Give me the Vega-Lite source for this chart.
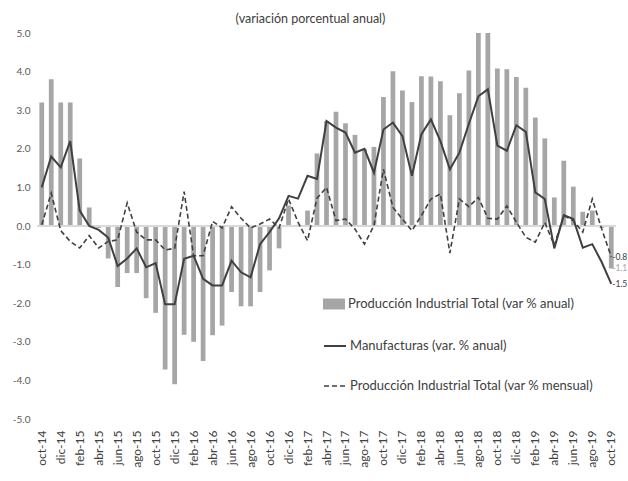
{
  "$schema": "https://vega.github.io/schema/vega-lite/v6.json",
  "autosize": "none",
  "width": 579,
  "height": 386,
  "padding": {"left": 37, "top": 33, "right": 12, "bottom": 62},
  "background": "white",
  "config": {
    "view": {"stroke": null},
    "font": "Lato",
    "axis": {"domain": false, "ticks": false, "grid": false},
    "axisY": {"labelOverlap": false, "labelFontSize": 10, "labelColor": "#595959", "labelPadding": 7},
    "legend": {"padding": 0, "title": null, "labelLimit": 0}
  },
  "title": {
    "text": "(variación porcentual anual)",
    "fontSize": 12.5,
    "font": "Lato",
    "fontWeight": "normal",
    "color": "#404040",
    "anchor": "middle",
    "dx": -16,
    "offset": 3
  },
  "data": {
    "values": [
      {"mes": "oct-14", "pa": 3.2, "m": 1.0, "pm": 0.03},
      {"mes": "nov-14", "pa": 3.8, "m": 1.8, "pm": 0.85},
      {"mes": "dic-14", "pa": 3.2, "m": 1.52, "pm": -0.12},
      {"mes": "ene-15", "pa": 3.2, "m": 2.2, "pm": -0.4},
      {"mes": "feb-15", "pa": 1.75, "m": 0.4, "pm": -0.57},
      {"mes": "mar-15", "pa": 0.48, "m": 0.0, "pm": -0.25},
      {"mes": "abr-15", "pa": -0.05, "m": -0.1, "pm": -0.57},
      {"mes": "may-15", "pa": -0.84, "m": -0.3, "pm": -0.4},
      {"mes": "jun-15", "pa": -1.58, "m": -1.04, "pm": -0.36},
      {"mes": "jul-15", "pa": -1.22, "m": -0.84, "pm": 0.6},
      {"mes": "ago-15", "pa": -1.22, "m": -0.58, "pm": -0.16},
      {"mes": "sep-15", "pa": -1.87, "m": -1.07, "pm": -0.36},
      {"mes": "oct-15", "pa": -2.25, "m": -0.96, "pm": -0.36},
      {"mes": "nov-15", "pa": -3.72, "m": -2.03, "pm": -0.62},
      {"mes": "dic-15", "pa": -4.1, "m": -2.03, "pm": -0.58},
      {"mes": "ene-16", "pa": -2.82, "m": -0.85, "pm": 0.89},
      {"mes": "feb-16", "pa": -3.0, "m": -0.77, "pm": -0.77},
      {"mes": "mar-16", "pa": -3.5, "m": -1.37, "pm": -0.77},
      {"mes": "abr-16", "pa": -2.83, "m": -1.54, "pm": 0.12},
      {"mes": "may-16", "pa": -2.58, "m": -1.54, "pm": -0.05},
      {"mes": "jun-16", "pa": -1.71, "m": -0.9, "pm": 0.5},
      {"mes": "jul-16", "pa": -2.08, "m": -1.2, "pm": 0.2},
      {"mes": "ago-16", "pa": -2.08, "m": -1.33, "pm": -0.05},
      {"mes": "sep-16", "pa": -1.71, "m": -0.47, "pm": 0.05},
      {"mes": "oct-16", "pa": -1.15, "m": -0.16, "pm": 0.18},
      {"mes": "nov-16", "pa": -0.58, "m": 0.2, "pm": -0.05},
      {"mes": "dic-16", "pa": 0.53, "m": 0.78, "pm": 0.7},
      {"mes": "ene-17", "pa": 0.03, "m": 0.71, "pm": 0.1},
      {"mes": "feb-17", "pa": 0.4, "m": 1.3, "pm": -0.38},
      {"mes": "mar-17", "pa": 1.88, "m": 1.22, "pm": 0.72},
      {"mes": "abr-17", "pa": 2.72, "m": 2.72, "pm": 1.0},
      {"mes": "may-17", "pa": 2.96, "m": 2.55, "pm": 0.14},
      {"mes": "jun-17", "pa": 2.66, "m": 2.42, "pm": 0.18},
      {"mes": "jul-17", "pa": 2.36, "m": 1.9, "pm": -0.08},
      {"mes": "ago-17", "pa": 2.0, "m": 2.0, "pm": -0.47},
      {"mes": "sep-17", "pa": 2.05, "m": 1.38, "pm": 0.01},
      {"mes": "oct-17", "pa": 3.34, "m": 2.5, "pm": 1.47},
      {"mes": "nov-17", "pa": 4.01, "m": 2.68, "pm": 0.48},
      {"mes": "dic-17", "pa": 3.51, "m": 2.33, "pm": 0.18},
      {"mes": "ene-18", "pa": 3.21, "m": 1.3, "pm": -0.12},
      {"mes": "feb-18", "pa": 3.88, "m": 2.38, "pm": 0.27},
      {"mes": "mar-18", "pa": 3.87, "m": 2.76, "pm": 0.7},
      {"mes": "abr-18", "pa": 3.75, "m": 2.2, "pm": 0.83},
      {"mes": "may-18", "pa": 2.87, "m": 1.47, "pm": -0.7},
      {"mes": "jun-18", "pa": 3.44, "m": 1.9, "pm": 0.7},
      {"mes": "jul-18", "pa": 4.03, "m": 2.65, "pm": 0.5},
      {"mes": "ago-18", "pa": 5.0, "m": 3.36, "pm": 0.74},
      {"mes": "sep-18", "pa": 5.0, "m": 3.54, "pm": 0.2},
      {"mes": "oct-18", "pa": 4.08, "m": 2.08, "pm": 0.18},
      {"mes": "nov-18", "pa": 4.06, "m": 1.95, "pm": 0.52},
      {"mes": "dic-18", "pa": 3.86, "m": 2.61, "pm": 0.1},
      {"mes": "ene-19", "pa": 3.58, "m": 2.44, "pm": -0.29},
      {"mes": "feb-19", "pa": 2.81, "m": 0.87, "pm": -0.42},
      {"mes": "mar-19", "pa": 2.27, "m": 0.7, "pm": 0.09},
      {"mes": "abr-19", "pa": 0.74, "m": -0.58, "pm": -0.5},
      {"mes": "may-19", "pa": 1.69, "m": 0.28, "pm": 0.27},
      {"mes": "jun-19", "pa": 1.02, "m": 0.18, "pm": 0.14},
      {"mes": "jul-19", "pa": 0.37, "m": -0.56, "pm": -0.16},
      {"mes": "ago-19", "pa": 0.4, "m": -0.47, "pm": 0.7},
      {"mes": "sep-19", "pa": -0.05, "m": -0.94, "pm": -0.08},
      {"mes": "oct-19", "pa": -1.1, "m": -1.5, "pm": -0.8}
    ]
  },
  "encoding": {
    "x": {
      "field": "mes",
      "type": "nominal",
      "sort": null,
      "title": null,
      "scale": {"paddingInner": 0.5, "paddingOuter": 0.25},
      "axis": {
        "orient": "bottom",
        "labelAngle": -90,
        "labelFontSize": 12,
        "labelColor": "#404040",
        "labelPadding": 11,
        "values": ["oct-14","dic-14","feb-15","abr-15","jun-15","ago-15","oct-15","dic-15","feb-16","abr-16","jun-16","ago-16","oct-16","dic-16","feb-17","abr-17","jun-17","ago-17","oct-17","dic-17","feb-18","abr-18","jun-18","ago-18","oct-18","dic-18","feb-19","abr-19","jun-19","ago-19","oct-19"]
      }
    }
  },
  "layer": [
    {
      "mark": {"type": "bar"},
      "encoding": {
        "y": {
          "field": "pa",
          "type": "quantitative",
          "title": null,
          "scale": {"domain": [-5, 5], "nice": false, "zero": true},
          "axis": {
            "values": [-5,-4,-3,-2,-1,0,1,2,3,4,5],
            "labelExpr": "replace(format(datum.value, '.1f'), '\u2212', '-')",
            "labelOverlap": false
          }
        },
        "fill": {
          "datum": "Producción Industrial Total (var % anual)",
          "scale": {"range": ["#a6a6a6"]},
          "legend": {
            "orient": "none", "legendX": 286, "legendY": 260,
            "symbolType": "M-1,-0.5H1V0.5H-1Z", "symbolSize": 484,
            "symbolStrokeWidth": 0,
            "labelFontSize": 13, "labelColor": "#404040", "labelOffset": 3, "labelFont": "Lato", "labelLimit": 0
          }
        }
      }
    },
    {
      "mark": {"type": "rule", "color": "#d9d9d9", "strokeWidth": 1},
      "encoding": {"y": {"datum": 0, "type": "quantitative", "title": null, "axis": {"values": [-5,-4,-3,-2,-1,0,1,2,3,4,5], "labelExpr": "replace(format(datum.value, '.1f'), '\u2212', '-')", "labelOverlap": false}}, "x": null}
    },
    {
      "mark": {"type": "line", "strokeWidth": 1.6, "strokeDash": [5, 3], "color": "#404040"},
      "encoding": {
        "y": {"field": "pm", "type": "quantitative", "title": null, "axis": {"values": [-5,-4,-3,-2,-1,0,1,2,3,4,5], "labelExpr": "replace(format(datum.value, '.1f'), '\u2212', '-')", "labelOverlap": false}},
        "strokeDash": {
          "datum": "Producción Industrial Total (var % mensual)",
          "scale": {"range": [[5, 3]]},
          "legend": {
            "orient": "none", "legendX": 286, "legendY": 341,
            "symbolType": "stroke", "symbolSize": 484, "symbolStrokeColor": "#404040", "symbolStrokeWidth": 1.6,
            "labelFontSize": 13, "labelColor": "#404040", "labelOffset": 3, "labelFont": "Lato", "labelLimit": 0
          }
        }
      }
    },
    {
      "mark": {"type": "line", "strokeWidth": 2},
      "encoding": {
        "y": {"field": "m", "type": "quantitative", "title": null, "axis": {"values": [-5,-4,-3,-2,-1,0,1,2,3,4,5], "labelExpr": "replace(format(datum.value, '.1f'), '\u2212', '-')", "labelOverlap": false}},
        "stroke": {
          "datum": "Manufacturas (var. % anual)",
          "scale": {"range": ["#404040"]},
          "legend": {
            "orient": "none", "legendX": 286, "legendY": 301,
            "symbolType": "stroke", "symbolSize": 484, "symbolStrokeWidth": 2,
            "labelFontSize": 13, "labelColor": "#404040", "labelOffset": 3, "labelFont": "Lato", "labelLimit": 0
          }
        }
      }
    },
    {
      "transform": [{"filter": "datum.mes === 'oct-19'"}],
      "mark": {"type": "text", "align": "left", "dx": 1, "fontSize": 8.5, "color": "#404040", "text": {"expr": "replace(format(datum.pm, '.1f'), '\u2212', '-')"}},
      "encoding": {"y": {"field": "pm", "type": "quantitative", "title": null, "axis": {"values": [-5,-4,-3,-2,-1,0,1,2,3,4,5], "labelExpr": "replace(format(datum.value, '.1f'), '\u2212', '-')", "labelOverlap": false}}}
    },
    {
      "transform": [{"filter": "datum.mes === 'oct-19'"}],
      "mark": {"type": "text", "align": "left", "dx": 1, "fontSize": 8.5, "color": "#a6a6a6", "text": {"expr": "replace(format(datum.pa, '.1f'), '\u2212', '-')"}},
      "encoding": {"y": {"field": "pa", "type": "quantitative", "title": null, "axis": {"values": [-5,-4,-3,-2,-1,0,1,2,3,4,5], "labelExpr": "replace(format(datum.value, '.1f'), '\u2212', '-')", "labelOverlap": false}}}
    },
    {
      "transform": [{"filter": "datum.mes === 'oct-19'"}],
      "mark": {"type": "text", "align": "left", "dx": 1, "fontSize": 8.5, "color": "#404040", "text": {"expr": "replace(format(datum.m, '.1f'), '\u2212', '-')"}},
      "encoding": {"y": {"field": "m", "type": "quantitative", "title": null, "axis": {"values": [-5,-4,-3,-2,-1,0,1,2,3,4,5], "labelExpr": "replace(format(datum.value, '.1f'), '\u2212', '-')", "labelOverlap": false}}}
    }
  ]
}
